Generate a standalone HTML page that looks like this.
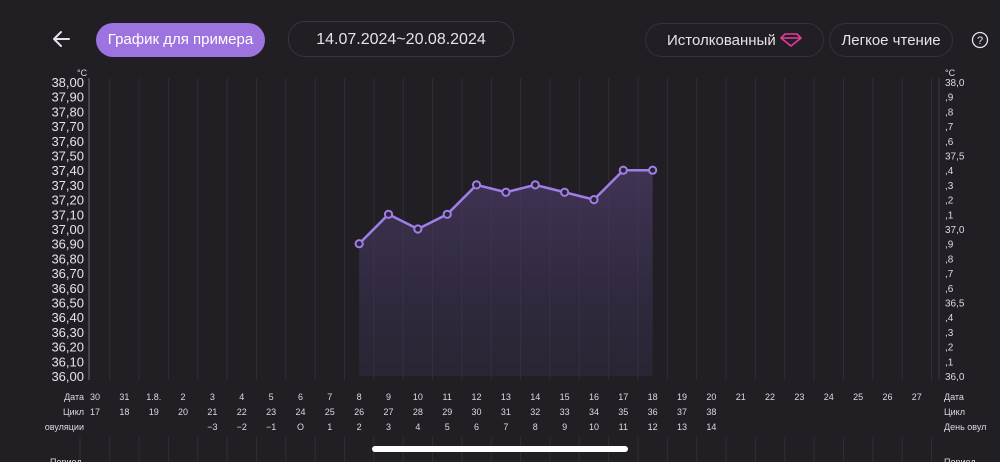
<!DOCTYPE html>
<html><head><meta charset="utf-8"><style>
body{margin:0;width:1000px;height:462px;background:#211e24;overflow:hidden;font-family:"Liberation Sans",sans-serif;color:#e6e3ea;position:relative}
.pill{position:absolute;border-radius:17px;height:34px;line-height:34px;text-align:center;font-size:15px;box-sizing:border-box}
</style></head><body>
<svg width="24" height="24" style="position:absolute;left:50px;top:27px" viewBox="0 0 24 24"><path d="M19 12H5M11 5l-7 7 7 7" stroke="#e6e3ea" stroke-width="2" fill="none" stroke-linecap="round" stroke-linejoin="round"/></svg>
<div class="pill" style="left:96px;top:23px;width:169px;background:#9d73e0;color:#fff">График для примера</div>
<div class="pill" style="left:288px;top:21px;width:226px;height:36px;line-height:36px;border:1px solid #3a363e;font-size:16px">14.07.2024~20.08.2024</div>
<div class="pill" style="left:645px;top:23px;width:179px;border:1px solid #36323a;text-align:left;padding-left:21px">Истолкованный <svg width="22" height="14" viewBox="0 0 22 14" style="vertical-align:-2px"><path d="M5 1h12l4 4-10 8L1 5z M1 5h20" stroke="#e83a9c" stroke-width="1.6" fill="none"/></svg></div>
<div class="pill" style="left:829px;top:23px;width:124px;border:1px solid #36323a">Легкое чтение</div>
<svg width="18" height="18" style="position:absolute;left:971px;top:31px" viewBox="0 0 18 18"><circle cx="9" cy="9" r="7.5" stroke="#e6e3ea" stroke-width="1.3" fill="none"/><text x="9" y="13" font-size="11" text-anchor="middle" fill="#e6e3ea" font-family="Liberation Sans">?</text></svg>
<svg width="1000" height="462" style="position:absolute;left:0;top:0" font-family="Liberation Sans">
<defs><linearGradient id="g" x1="0" y1="0" x2="0" y2="1"><stop offset="0" stop-color="#4a3b66" stop-opacity="0.75"/><stop offset="1" stop-color="#3a3050" stop-opacity="0.35"/></linearGradient></defs>
<g id="grid"></g>
<line x1="89" y1="78" x2="89" y2="380" stroke="#55505a" stroke-width="1.5"/>
<line x1="939" y1="78" x2="939" y2="380" stroke="#3a363e" stroke-width="1"/>
<g id="data"></g>
<g id="labs" font-size="13" fill="#e6e3ea"></g>
<g id="bot" font-size="9" fill="#dedae2"></g>
<rect x="372" y="446" width="256" height="6" rx="3" fill="#fff"/>
</svg>
<script>
const ns="http://www.w3.org/2000/svg";
function el(p,t,a,txt){const e=document.createElementNS(ns,t);for(const k in a)e.setAttribute(k,a[k]);if(txt!==undefined)e.textContent=txt;document.getElementById(p).appendChild(e);return e;}
const cx=i=>95+i*29.35, Y=v=>82+(38-v)*147;
for(let i=0;i<29;i++){const x=cx(i)+14.7;if(x<935){el("grid","line",{x1:x,y1:78,x2:x,y2:380,stroke:"#312d36","stroke-width":1});el("grid","line",{x1:x,y1:437,x2:x,y2:462,stroke:"#312d36","stroke-width":1});}}
el("grid","line",{x1:80,y1:437,x2:80,y2:462,stroke:"#312d36"});
for(let k=0;k<=20;k++){const v=38-k*0.1;el("labs","text",{x:84,y:Y(v)+5,"text-anchor":"end"},v.toFixed(2).replace(".",","));
const r=k==0?"38,0":k==5?"37,5":k==10?"37,0":k==15?"36,5":k==20?"36,0":","+(10-k%10)%10;
el("bot","text",{x:945,y:Y(v)+4,"font-size":"10"},r);}
el("bot","text",{x:77,y:76,"font-size":"9"},"°C");el("bot","text",{x:945,y:76,"font-size":"9"},"°C");
const d=["30","31","1.8.","2","3","4","5","6","7","8","9","10","11","12","13","14","15","16","17","18","19","20","21","22","23","24","25","26","27"];
d.forEach((t,i)=>{el("bot","text",{x:cx(i),y:400,"text-anchor":"middle"},t);const c=17+i;if(c<=38)el("bot","text",{x:cx(i),y:415,"text-anchor":"middle"},c);
if(i>=4&&i<=21){const o=i-7;el("bot","text",{x:cx(i),y:430,"text-anchor":"middle"},o==0?"O":o<0?"−"+(-o):o);}});
el("bot","text",{x:84,y:400,"text-anchor":"end"},"Дата");el("bot","text",{x:84,y:415,"text-anchor":"end"},"Цикл");el("bot","text",{x:84,y:430,"text-anchor":"end"},"овуляции");
el("bot","text",{x:944,y:400},"Дата");el("bot","text",{x:944,y:415},"Цикл");el("bot","text",{x:944,y:430},"День овул");
el("bot","text",{x:50,y:465},"Период");el("bot","text",{x:944,y:465},"Период");
const vals=[36.9,37.1,37.0,37.1,37.3,37.25,37.3,37.25,37.2,37.4,37.4];
const pts=vals.map((v,j)=>[cx(9+j),Y(v)]);
el("data","path",{d:"M"+pts.map(p=>p.join(",")).join("L")+"L"+pts[10][0]+",376L"+pts[0][0]+",376Z",fill:"url(#g)"});
el("data","polyline",{points:pts.map(p=>p.join(",")).join(" "),fill:"none",stroke:"#a07ee8","stroke-width":2.5});
pts.forEach(p=>el("data","circle",{cx:p[0],cy:p[1],r:3.6,fill:"#2a2433",stroke:"#a07ee8","stroke-width":2}));
</script>
</body></html>
